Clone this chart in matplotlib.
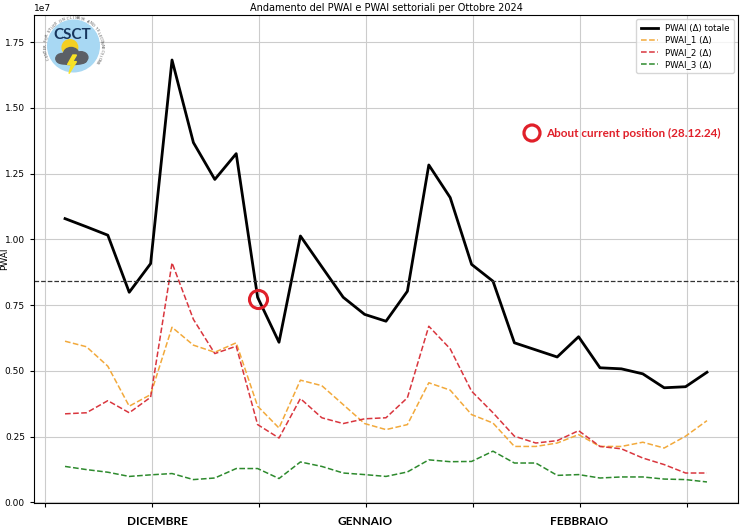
import matplotlib.pyplot as plt
import numpy as np
from matplotlib.patches import Circle, Ellipse, Polygon

# values in units of 1e7, one point per step
pwai_tot = [1.079, 1.048, 1.016, 0.799, 0.908, 1.682, 1.368, 1.228, 1.326, 0.780,
            0.609, 1.013, 0.896, 0.780, 0.715, 0.689, 0.803, 1.283, 1.159, 0.905,
            0.841, 0.607, 0.580, 0.553, 0.630, 0.512, 0.508, 0.489, 0.436, 0.440,
            0.495]
pwai_1 = [0.613, 0.592, 0.518, 0.366, 0.410, 0.666, 0.598, 0.571, 0.607, 0.366,
          0.283, 0.465, 0.444, 0.372, 0.300, 0.277, 0.296, 0.455, 0.427, 0.334,
          0.302, 0.213, 0.213, 0.226, 0.258, 0.213, 0.213, 0.229, 0.207, 0.252,
          0.311]
pwai_2 = [0.337, 0.341, 0.387, 0.341, 0.400, 0.911, 0.696, 0.566, 0.594, 0.296,
          0.245, 0.395, 0.322, 0.300, 0.318, 0.322, 0.398, 0.670, 0.584, 0.423,
          0.341, 0.252, 0.226, 0.235, 0.273, 0.213, 0.204, 0.169, 0.144, 0.112,
          0.112]
pwai_3 = [0.137, 0.125, 0.115, 0.099, 0.105, 0.110, 0.087, 0.093, 0.129, 0.129,
          0.091, 0.154, 0.137, 0.112, 0.106, 0.099, 0.116, 0.162, 0.155, 0.156,
          0.195, 0.150, 0.150, 0.103, 0.106, 0.093, 0.097, 0.097, 0.089, 0.087,
          0.078]
soglia = 0.84
current_idx = 9
current_val = 0.775
months = ['DICEMBRE', 'GENNAIO', 'FEBBRAIO']
month_idx = [4.3, 14.0, 24.0]

scale = 1e7
x = np.arange(len(pwai_tot))

fig = plt.figure(figsize=(7.42, 5.30), dpi=100)
ax = fig.add_axes([34 / 742, 1 - 503 / 530, 704 / 742, 488 / 530])

ax.plot(x, np.array(pwai_tot) * scale, color='black', lw=2, label='PWAI (Δ) totale')
ax.plot(x, np.array(pwai_1) * scale, color='#f2a93b', lw=1.1, ls='--', label='PWAI_1 (Δ)')
ax.plot(x, np.array(pwai_2) * scale, color='#d9363e', lw=1.1, ls='--', label='PWAI_2 (Δ)')
ax.plot(x, np.array(pwai_3) * scale, color='#2d8a2d', lw=1.1, ls='--', label='PWAI_3 (Δ)')
ax.axhline(soglia * scale, color='#333333', lw=0.9, ls='--')

ax.set_xlim(-1.45, 31.45)
ax.set_ylim(-0.002 * scale, 1.853 * scale)
ax.set_yticks(np.arange(0, 1.76, 0.25) * scale)
ax.set_xticks(np.arange(-0.95, 30, 5))
ax.set_xticklabels([])
ax.tick_params(labelsize=6.5, length=3)
ax.yaxis.get_offset_text().set_fontsize(6.5)
ax.grid(True, color='#cccccc', lw=0.8)
ax.set_ylabel('PWAI', fontsize=6.5)
ax.yaxis.set_label_coords(-0.035, 0.5)
ax.set_title('Andamento del PWAI e PWAI settoriali per Ottobre 2024', fontsize=7, pad=3)
ax.legend(loc='upper right', fontsize=6.2, handlelength=2.0, borderpad=0.5,
          labelspacing=0.35)

# current position marker
ax.plot([current_idx], [current_val * scale], 'o', ms=13, mfc='none', mec='#e0202a', mew=2.2)

# month labels below the axis
for m, xi in zip(months, month_idx):
    ax.text(xi, -0.027, m, transform=ax.get_xaxis_transform(), ha='center', va='top',
            fontsize=8.5, fontweight='bold', family='Lato')

# annotation top right (pixel coordinates)
ax_note = fig.add_axes([0, 0, 1, 1], facecolor='none')
ax_note.set_xlim(0, 742)
ax_note.set_ylim(530, 0)
ax_note.axis('off')
ax_note.add_patch(Circle((532, 133), 8, fill=False, ec='#e0202a', lw=2.3))
ax_note.text(546, 133, 'About current position (28.12.24)', color='#e0202a',
             fontsize=8.5, fontweight='bold', family='Lato', va='center', ha='left')

# logo
lg = fig.add_axes([43.5 / 742, 1 - 76 / 530, 60 / 742, 60 / 530])
lg.set_xlim(-1, 1)
lg.set_ylim(-1, 1)
lg.set_aspect('equal')
lg.axis('off')
lg.add_patch(Circle((0, 0), 0.86, color='#a8d8f3'))
lg.text(-0.05, 0.36, 'CSCT', ha='center', va='center', fontsize=11, fontweight='bold',
        color='#17365d', family='Lato')
lg.add_patch(Circle((-0.12, -0.05), 0.26, color='#f4cf22'))
for cx, cy, w, h in [(-0.38, -0.42, 0.42, 0.34), (-0.08, -0.28, 0.52, 0.46),
                     (0.25, -0.38, 0.46, 0.38), (-0.05, -0.5, 0.95, 0.24)]:
    lg.add_patch(Ellipse((cx, cy), w, h, color='#5b5f66'))
lg.add_patch(Polygon([(-0.02, -0.3), (-0.2, -0.62), (-0.07, -0.62), (-0.15, -0.92),
                      (0.1, -0.52), (-0.03, -0.52), (0.1, -0.3)], color='#f7e225'))
ring = 'CENTER FOR STUDY ON CLIMATE AND TELECONNECTIONS'
angles = np.linspace(205, -35, len(ring))
for ch, a in zip(ring, angles):
    r = np.deg2rad(a)
    lg.text(0.93 * np.cos(r), 0.93 * np.sin(r), ch, fontsize=2.8, color='#555555',
            rotation=a - 90, ha='center', va='center')

fig.savefig('out.png', dpi=100)
